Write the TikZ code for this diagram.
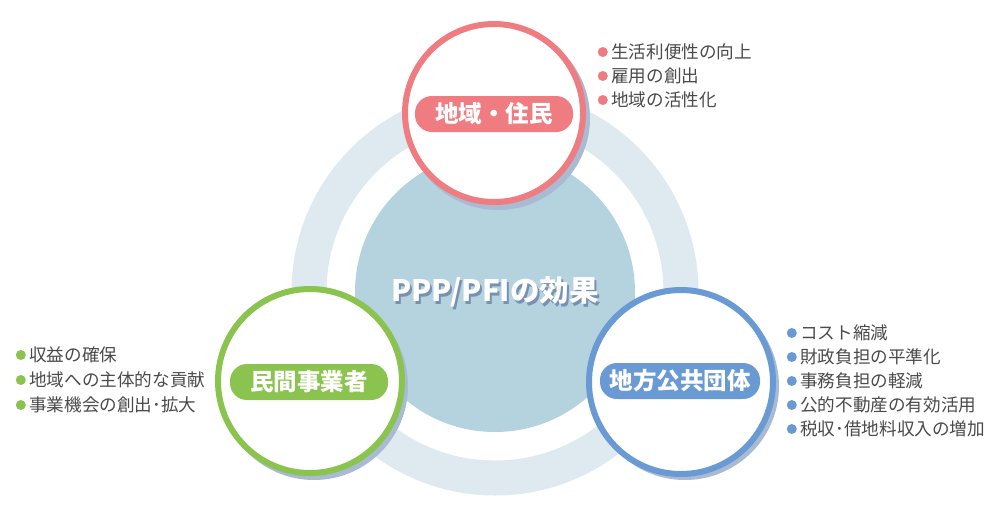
\documentclass[tikz,border=0pt]{standalone}
\usepackage{fontspec}
\setmainfont{Noto Sans CJK JP}
\usetikzlibrary{positioning}

\definecolor{redc}{HTML}{EE7C80}
\definecolor{greenc}{HTML}{8BC34F}
\definecolor{bluec}{HTML}{6A9AD3}
\definecolor{centc}{HTML}{B4D3DF}
\definecolor{ringc}{HTML}{DEEAF0}
\definecolor{shadc}{HTML}{A9BAD3}
\definecolor{titlesh}{HTML}{7891B3}
\definecolor{textc}{HTML}{4A4A4A}

\begin{document}
\begin{tikzpicture}[x=1pt,y=-1pt,
    party/.style={circle,draw=#1,line width=6pt,fill=white,minimum size=178pt,inner sep=0pt},
    pill/.style={rectangle,rounded corners=17pt,fill=#1,minimum width=158pt,minimum height=36pt,
                 inner sep=0pt,text=white,font=\bfseries\fontsize{23.5}{28}\selectfont},
    title/.style={inner sep=0pt,font=\bfseries\fontsize{29.5}{32}\selectfont},
    item/.style={anchor=west,inner sep=0pt,text=textc,font=\fontsize{17.6}{20}\selectfont},
    bulletdot/.style={circle,fill=#1,minimum size=10pt,inner sep=0pt}]
  \useasboundingbox (0,0) rectangle (1000,517);
  %\fill[white] (0,0) rectangle (1000,517);

  % ring and centre
  \draw[ringc,line width=35pt] (495,292) circle (186);
  \node[circle,fill=centc,minimum size=280pt,inner sep=0pt] (core) at (495,292) {};
  \node[title,text=titlesh] (ttlsh) at (497,294.5) {PPP/PFIの効果};
  \node[title,text=white] (ttl) at (495,292) {PPP/PFIの効果};

  % three circles
  \fill[shadc] (498,118) circle (92);
  \node[party=redc] (resid) at (494,113) {};
  \node[pill=redc] (residlbl) at (494,114) {地域・住民};

  \fill[shadc] (314,386) circle (94);
  \node[party=greenc,minimum size=184pt] (priv) at (310,381) {};
  \node[pill=greenc] (privlbl) at (309,382) {民間事業者};

  \fill[shadc] (685,386) circle (94);
  \node[party=bluec,minimum size=184pt] (gov) at (681,382) {};
  \node[pill=bluec,minimum width=160pt] (govlbl) at (680,381) {地方公共団体};

  % lists
  \node[item] (r1) at (611,52) {生活利便性の向上};
  \node[item] (r2) at (611,76) {雇用の創出};
  \node[item] (r3) at (611,100) {地域の活性化};
  \node[bulletdot=redc] (rd1) [left=3pt of r1] {};
  \node[bulletdot=redc] (rd2) [left=3pt of r2] {};
  \node[bulletdot=redc] (rd3) [left=3pt of r3] {};

  \node[item] (g1) at (29,355) {収益の確保};
  \node[item] (g2) at (29,380) {地域への主体的な貢献};
  \node[item] (g3) at (29,405) {事業機会の創出･拡大};
  \node[bulletdot=greenc] (gd1) [left=3pt of g1] {};
  \node[bulletdot=greenc] (gd2) [left=3pt of g2] {};
  \node[bulletdot=greenc] (gd3) [left=3pt of g3] {};

  \node[item] (b1) at (800,333) {コスト縮減};
  \node[item] (b2) at (800,357) {財政負担の平準化};
  \node[item] (b3) at (800,381) {事務負担の軽減};
  \node[item] (b4) at (800,405) {公的不動産の有効活用};
  \node[item] (b5) at (800,429) {税収･借地料収入の増加};
  \node[bulletdot=bluec] (bd1) [left=3pt of b1] {};
  \node[bulletdot=bluec] (bd2) [left=3pt of b2] {};
  \node[bulletdot=bluec] (bd3) [left=3pt of b3] {};
  \node[bulletdot=bluec] (bd4) [left=3pt of b4] {};
  \node[bulletdot=bluec] (bd5) [left=3pt of b5] {};
\end{tikzpicture}
\end{document}
